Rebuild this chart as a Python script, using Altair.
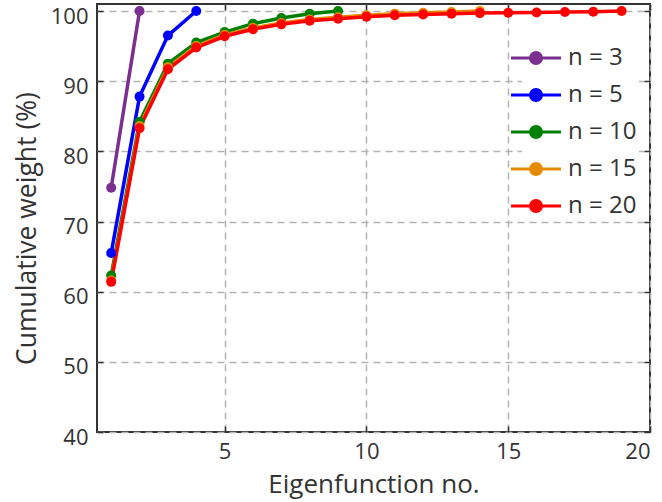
import altair as alt
import pandas as pd

n_values = [3, 5, 10, 15, 20]
colors = ["#7b2f8e", "#0000ff", "#008000", "#e68a00", "#ff0000"]

w3 = [74.8, 100.0]
w5 = [65.5, 87.8, 96.5, 100.0]
w10 = [62.3, 84.2, 92.5, 95.5, 97.0, 98.2, 99.0, 99.6, 100.0]
w15 = [61.6, 83.6, 92.0, 95.0, 96.6, 97.6, 98.3, 98.8, 99.1, 99.4, 99.6, 99.75, 99.85, 100.0]
w20 = [61.4, 83.3, 91.7, 94.8, 96.4, 97.4, 98.1, 98.6, 98.9, 99.2, 99.4, 99.5, 99.6,
       99.7, 99.75, 99.8, 99.85, 99.9, 100.0]

x_ticks = [5, 10, 15, 20]
y_ticks = [40, 50, 60, 70, 80, 90, 100]

rows = []
for n, ws in zip(n_values, [w3, w5, w10, w15, w20]):
    for i, w in enumerate(ws):
        rows.append({"n": n, "k": i + 1, "w": w})
df = pd.DataFrame(rows)

FONT = "Open Sans"
TXT = "#333333"
TICK = "#333333"

xscale = alt.Scale(domain=[0.5, 20], nice=False, zero=False)
yscale = alt.Scale(domain=[40, 101], nice=False, zero=False)
cscale = alt.Scale(domain=n_values, range=colors)

legend_path = ("M-2.5,0L-0.55,0M0.55,0L2.5,0"
               "M-0.55,0A0.55,0.55 0 1,0 0.55,0A0.55,0.55 0 1,0 -0.55,0Z")

legend = alt.Legend(
    title=None, orient="none", legendX=425, legendY=40,
    labelExpr="'n = ' + datum.label", labelFontSize=24, labelFont=FONT,
    labelColor=TXT, symbolType=legend_path, symbolSize=400,
    symbolStrokeWidth=3, rowPadding=13, labelOffset=20,
    fillColor="white", padding=2)

# layer 1: data with labelled axes and grid (no ticks)
lines = alt.Chart(df).mark_line(strokeWidth=3.5).encode(
    x=alt.X("k:Q", scale=xscale, axis=alt.Axis(
        values=x_ticks, title="Eigenfunction no.", grid=True, gridDash=[7, 5],
        gridColor="#b4b4b4", gridWidth=1.5, domain=False, ticks=False,
        labelFontSize=22, labelColor=TXT, labelFont=FONT, labelPadding=9,
        titleFontSize=26, titleColor=TXT, titleFont=FONT,
        titleFontWeight="normal", titleY=60, titleBaseline="alphabetic")),
    y=alt.Y("w:Q", scale=yscale, axis=alt.Axis(
        values=y_ticks, title="Cumulative weight (%)", grid=True, gridDash=[7, 5],
        gridColor="#b4b4b4", gridWidth=1.5, domain=False, ticks=False,
        labelFontSize=22, labelColor=TXT, labelFont=FONT, labelPadding=9,
        labelOffset=5,
        titleFontSize=26.5, titleColor=TXT, titleFont=FONT,
        titleFontWeight="normal", titleX=-62, titleY=224,
        titleBaseline="alphabetic")),
    stroke=alt.Stroke("n:O", scale=cscale, legend=legend),
    order="k:Q")

points = alt.Chart(df).mark_point(filled=True, size=100, opacity=1, strokeWidth=0).encode(
    x=alt.X("k:Q", scale=xscale, axis=alt.Axis(
        orient="bottom", offset=-6, values=x_ticks, labels=False, title=None,
        grid=False, domain=False, tickColor=TICK, tickWidth=1.5, tickSize=6)),
    y=alt.Y("w:Q", scale=yscale, axis=alt.Axis(
        orient="left", offset=-6, values=y_ticks, labels=False, title=None,
        grid=False, domain=False, tickColor=TICK, tickWidth=1.5, tickSize=6)),
    fill=alt.Fill("n:O", scale=cscale, legend=legend))

frame = alt.Chart(df).mark_point(opacity=0).encode(
    x=alt.X("k:Q", scale=xscale, axis=alt.Axis(
        orient="top", offset=-6, values=x_ticks, labels=False, title=None,
        grid=False, domain=False, tickColor=TICK, tickWidth=1.5, tickSize=6)),
    y=alt.Y("w:Q", scale=yscale, axis=alt.Axis(
        orient="right", offset=-6, values=y_ticks, labels=False, title=None,
        grid=False, domain=False, tickColor=TICK, tickWidth=1.5, tickSize=6)),
)

chart = alt.layer(lines, points, frame).resolve_axis(
    x="independent", y="independent").properties(
    width=553, height=428,
    autosize=alt.AutoSizeParams(type="none"),
    padding={"left": 97, "top": 4, "right": 12, "bottom": 70},
    background="white",
).configure_view(stroke="#333333", strokeWidth=2)

chart.save("out.html", embed_options={"renderer": "svg", "actions": False})
